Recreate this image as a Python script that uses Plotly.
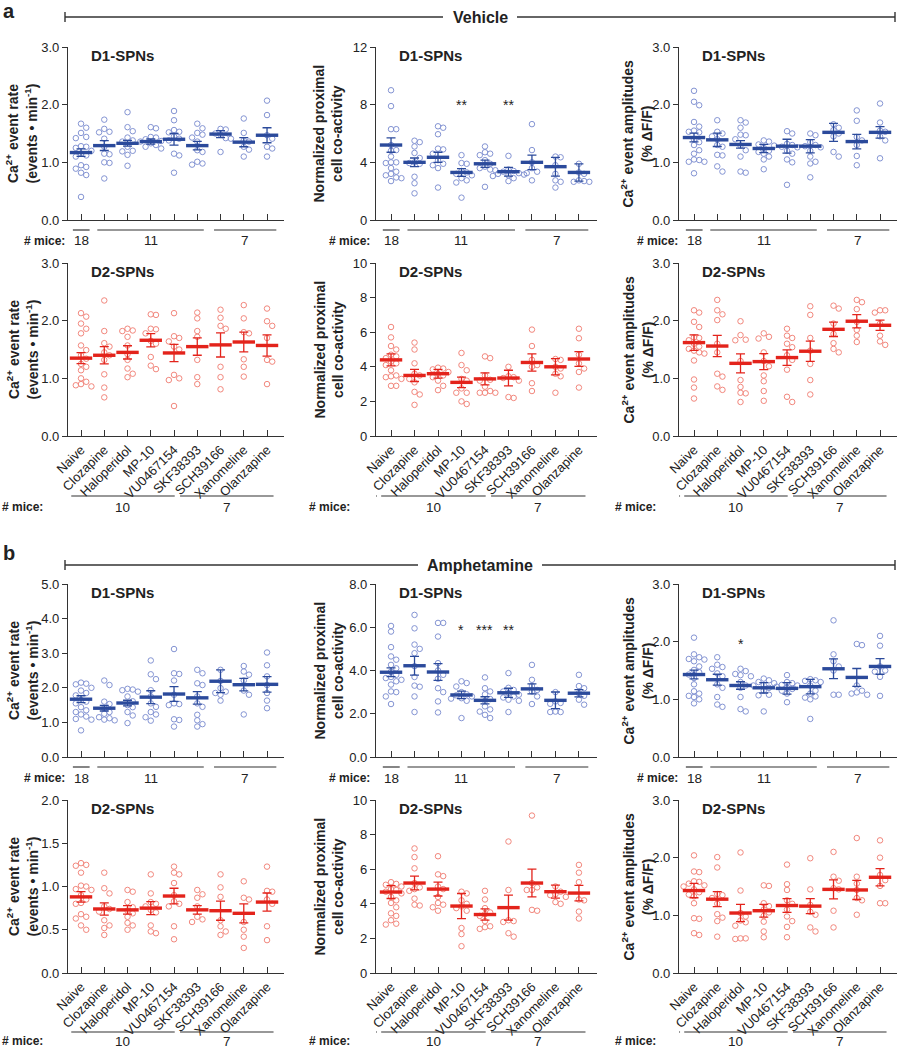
import numpy as np
import plotly.graph_objects as go

W, H = 898, 1050
FONT = "Liberation Sans, Arial, sans-serif"
INK = "#222222"
AX = "#333333"

categories = ["Naive", "Clozapine", "Haloperidol", "MP-10", "VU0467154",
              "SKF38393", "SCH39166", "Xanomeline", "Olanzapine"]
mice_d1 = ["18", "11", "7"]
mice_d2 = ["17", "10", "7"]

# ---------------- Vehicle, D1 ----------------
veh_d1_rate = [
    [1.67, 1.60, 1.51, 1.44, 1.42, 1.28, 1.25, 1.27, 1.20, 1.10, 1.12, 0.95, 0.92, 0.89, 0.82, 0.78, 0.40, 1.15],
    [1.74, 1.58, 1.53, 1.52, 1.41, 1.27, 1.14, 1.15, 1.00, 0.99, 0.72],
    [1.87, 1.61, 1.54, 1.43, 1.38, 1.36, 1.27, 1.20, 1.19, 1.13, 0.94],
    [1.61, 1.59, 1.44, 1.43, 1.40, 1.37, 1.36, 1.33, 1.30, 1.27, 1.24],
    [1.89, 1.73, 1.56, 1.53, 1.52, 1.45, 1.41, 1.38, 1.15, 1.12, 0.82],
    [1.67, 1.59, 1.51, 1.48, 1.43, 1.36, 1.21, 1.18, 1.01, 0.98, 0.96],
    [1.58, 1.57, 1.50, 1.48, 1.42, 1.41, 1.18],
    [1.76, 1.51, 1.38, 1.36, 1.27, 1.22, 1.10],
    [2.07, 1.82, 1.47, 1.41, 1.27, 1.24, 1.10]]
veh_d1_rate_mean = [1.17, 1.29, 1.33, 1.36, 1.40, 1.29, 1.49, 1.35, 1.47]
veh_d1_rate_sem = [0.065, 0.085, 0.05, 0.045, 0.10, 0.075, 0.06, 0.08, 0.13]

veh_d1_coact = [
    [9.0, 7.9, 6.3, 6.3, 5.2, 4.85, 4.8, 4.0, 4.0, 3.95, 3.6, 3.35, 3.2, 3.1, 2.95, 2.9, 2.7, 4.4],
    [5.5, 5.4, 5.1, 4.65, 4.0, 3.95, 3.9, 3.0, 2.55, 1.85, 4.3],
    [6.5, 6.4, 5.95, 4.95, 4.9, 4.6, 4.15, 3.9, 3.8, 3.6, 2.25],
    [4.5, 3.95, 3.9, 3.4, 3.3, 3.2, 3.1, 2.9, 2.75, 2.6, 1.55],
    [5.1, 4.7, 4.6, 4.5, 4.15, 3.9, 3.7, 3.6, 3.5, 3.45, 2.3],
    [4.45, 3.5, 3.4, 3.35, 3.25, 3.2, 3.15, 3.1, 3.05, 2.9, 2.7],
    [6.65, 4.85, 4.0, 3.6, 3.35, 3.25, 2.75],
    [4.4, 4.35, 3.8, 3.2, 2.75, 2.65, 2.25],
    [3.9, 3.3, 3.2, 2.75, 2.7, 2.65, 2.65]]
veh_d1_coact_mean = [5.2, 4.0, 4.35, 3.3, 3.9, 3.35, 4.0, 3.7, 3.3]
veh_d1_coact_sem = [0.5, 0.3, 0.35, 0.27, 0.25, 0.3, 0.5, 0.65, 0.6]
veh_d1_coact_sig = ["", "", "", "**", "", "**", "", "", ""]

veh_d1_amp = [
    [2.24, 2.05, 1.99, 1.70, 1.62, 1.55, 1.53, 1.52, 1.40, 1.35, 1.30, 1.21, 1.15, 1.05, 1.04, 1.01, 1.01, 0.81],
    [1.73, 1.53, 1.50, 1.45, 1.40, 1.27, 1.13, 1.12, 0.93, 0.84, 1.30],
    [1.73, 1.69, 1.60, 1.48, 1.47, 1.40, 1.29, 1.21, 1.10, 0.84, 0.82],
    [1.38, 1.36, 1.31, 1.29, 1.25, 1.18, 1.15, 1.10, 1.05, 0.88, 1.20],
    [1.54, 1.50, 1.32, 1.27, 1.26, 1.20, 1.15, 1.05, 1.00, 0.61, 1.30],
    [1.50, 1.47, 1.35, 1.30, 1.26, 1.20, 1.10, 1.01, 0.98, 0.74, 1.28],
    [1.66, 1.60, 1.56, 1.50, 1.45, 1.18, 1.10],
    [1.90, 1.72, 1.44, 1.38, 1.30, 1.11, 0.95],
    [2.02, 1.69, 1.55, 1.53, 1.45, 1.38, 1.07]]
veh_d1_amp_mean = [1.43, 1.39, 1.31, 1.24, 1.28, 1.28, 1.52, 1.36, 1.52]
veh_d1_amp_sem = [0.075, 0.115, 0.065, 0.07, 0.12, 0.115, 0.155, 0.125, 0.10]

# ---------------- Vehicle, D2 ----------------
veh_d2_rate = [
    [2.13, 2.07, 1.95, 1.86, 1.78, 1.57, 1.49, 1.40, 1.34, 1.25, 1.20, 1.14, 1.00, 0.94, 0.90, 0.88, 0.86],
    [2.35, 1.82, 1.61, 1.55, 1.45, 1.40, 1.32, 1.07, 0.84, 0.67],
    [1.86, 1.83, 1.82, 1.72, 1.57, 1.42, 1.32, 1.17, 1.08, 1.02],
    [2.11, 2.10, 1.86, 1.85, 1.78, 1.65, 1.60, 1.37, 1.22, 1.16],
    [2.13, 1.73, 1.70, 1.64, 1.55, 1.50, 1.06, 1.00, 0.97, 0.52],
    [2.14, 2.04, 1.82, 1.72, 1.32, 1.02, 0.90],
    [2.19, 2.05, 1.91, 1.86, 1.20, 1.02, 0.81],
    [2.27, 2.04, 1.80, 1.78, 1.33, 1.20, 1.03],
    [2.21, 1.99, 1.91, 1.70, 1.32, 1.29, 0.90]]
veh_d2_rate_mean = [1.35, 1.40, 1.45, 1.66, 1.44, 1.55, 1.58, 1.63, 1.57]
veh_d2_rate_sem = [0.095, 0.15, 0.115, 0.115, 0.15, 0.15, 0.21, 0.17, 0.185]

veh_d2_coact = [
    [6.3, 5.7, 5.2, 5.0, 4.6, 4.5, 4.3, 4.2, 4.1, 3.8, 3.5, 3.45, 3.4, 3.3, 2.9, 2.9, 4.7],
    [5.4, 5.0, 4.2, 3.6, 3.5, 3.3, 3.1, 2.55, 2.4, 1.8],
    [3.95, 3.9, 3.85, 3.7, 3.6, 3.5, 3.4, 3.2, 2.9, 2.65],
    [4.8, 4.1, 3.8, 3.3, 3.2, 2.75, 2.5, 2.5, 2.0, 1.85],
    [4.6, 4.5, 3.5, 3.25, 3.2, 2.85, 2.6, 2.5, 2.5, 2.5],
    [4.0, 3.45, 3.4, 3.35, 3.2, 2.25, 2.2],
    [6.15, 5.2, 4.4, 4.1, 4.0, 3.05, 2.6],
    [4.45, 4.4, 4.0, 3.9, 3.6, 3.45, 2.5],
    [6.2, 5.65, 4.7, 4.2, 3.9, 3.7, 2.8]]
veh_d2_coact_mean = [4.4, 3.5, 3.6, 3.1, 3.3, 3.35, 4.25, 4.0, 4.45]
veh_d2_coact_sem = [0.35, 0.35, 0.25, 0.3, 0.35, 0.45, 0.5, 0.47, 0.43]

veh_d2_amp = [
    [2.18, 2.14, 1.98, 1.89, 1.71, 1.66, 1.60, 1.51, 1.48, 1.45, 1.43, 1.31, 0.98, 0.84, 0.65, 1.55, 1.70],
    [2.36, 2.18, 2.11, 2.01, 1.60, 1.45, 1.08, 1.03, 0.86, 0.80],
    [1.99, 1.75, 1.67, 1.66, 1.30, 0.97, 0.85, 0.75, 0.74, 0.59],
    [1.78, 1.72, 1.69, 1.45, 1.30, 1.21, 1.05, 0.95, 0.78, 0.61],
    [1.86, 1.74, 1.70, 1.54, 1.40, 1.32, 1.15, 0.68, 0.59, 1.60],
    [2.25, 2.10, 1.70, 1.48, 1.25, 0.97, 0.72],
    [2.26, 2.21, 1.95, 1.77, 1.61, 1.51, 1.45],
    [2.36, 2.32, 2.20, 1.98, 1.84, 1.74, 1.63],
    [2.18, 2.18, 2.14, 1.95, 1.74, 1.64, 1.58]]
veh_d2_amp_mean = [1.62, 1.56, 1.26, 1.29, 1.36, 1.47, 1.85, 1.99, 1.92]
veh_d2_amp_sem = [0.135, 0.185, 0.165, 0.14, 0.135, 0.175, 0.125, 0.115, 0.09]

# ---------------- Amphetamine, D1 ----------------
amph_d1_rate = [
    [2.15, 2.12, 2.10, 2.00, 1.92, 1.85, 1.78, 1.65, 1.60, 1.55, 1.44, 1.35, 1.30, 1.23, 1.17, 1.10, 1.08, 0.77],
    [2.21, 2.08, 1.60, 1.53, 1.41, 1.30, 1.25, 1.15, 1.12, 1.08, 1.06],
    [1.97, 1.95, 1.93, 1.89, 1.75, 1.61, 1.50, 1.44, 1.30, 1.20, 0.98],
    [2.79, 2.39, 2.25, 1.93, 1.75, 1.55, 1.45, 1.30, 1.23, 1.15, 1.05],
    [3.12, 2.42, 2.40, 2.21, 1.80, 1.55, 1.53, 1.50, 1.09, 1.07, 0.88],
    [2.52, 2.42, 2.13, 2.08, 1.75, 1.55, 1.45, 1.22, 1.06, 0.95, 0.88],
    [2.52, 2.20, 1.99, 1.89, 1.85, 1.80, 1.63],
    [2.63, 2.47, 2.38, 2.21, 1.92, 1.80, 1.23],
    [3.02, 2.65, 2.33, 2.08, 1.85, 1.63, 1.41]]
amph_d1_rate_mean = [1.67, 1.41, 1.56, 1.73, 1.82, 1.71, 2.19, 2.09, 2.10]
amph_d1_rate_sem = [0.10, 0.08, 0.08, 0.185, 0.215, 0.18, 0.33, 0.18, 0.225]

amph_d1_coact = [
    [6.06, 5.8, 5.08, 4.65, 4.5, 4.26, 4.1, 3.95, 3.8, 3.7, 3.65, 3.57, 3.5, 3.35, 3.03, 3.0, 2.8, 2.45],
    [6.57, 5.95, 5.2, 5.0, 4.8, 4.2, 3.7, 3.3, 3.25, 2.8, 2.08],
    [6.2, 6.2, 5.57, 4.34, 4.0, 3.8, 3.62, 3.18, 3.0, 2.57, 2.06],
    [3.5, 3.42, 3.26, 3.0, 2.9, 2.85, 2.8, 2.72, 2.7, 2.6, 1.8],
    [3.68, 3.18, 3.03, 2.9, 2.68, 2.6, 2.34, 2.2, 2.1, 1.95, 1.8],
    [3.88, 3.2, 3.1, 3.03, 2.95, 2.88, 2.8, 2.75, 2.65, 2.6, 2.08],
    [4.26, 3.57, 3.28, 3.1, 3.03, 2.8, 2.45],
    [3.0, 2.57, 2.5, 2.46, 2.1, 2.08, 2.08],
    [3.8, 3.28, 3.18, 2.95, 2.83, 2.65, 2.42]]
amph_d1_coact_mean = [3.92, 4.22, 3.93, 2.87, 2.62, 2.97, 3.15, 2.62, 2.95]
amph_d1_coact_sem = [0.2, 0.43, 0.385, 0.175, 0.165, 0.21, 0.23, 0.385, 0.17]
amph_d1_coact_sig = ["", "", "", "*", "***", "**", "", "", ""]

amph_d1_amp = [
    [2.07, 1.78, 1.73, 1.70, 1.69, 1.66, 1.57, 1.51, 1.47, 1.43, 1.37, 1.26, 1.14, 1.10, 1.06, 1.04, 1.00, 0.93],
    [1.73, 1.60, 1.56, 1.53, 1.45, 1.26, 1.20, 1.04, 0.91, 0.87, 1.40],
    [1.53, 1.49, 1.44, 1.42, 1.40, 1.30, 1.24, 1.04, 0.83, 0.79, 1.20],
    [1.36, 1.33, 1.28, 1.24, 1.20, 1.15, 1.08, 1.07, 0.79, 1.30, 1.25],
    [1.42, 1.28, 1.24, 1.22, 1.20, 1.15, 1.10, 0.95, 1.18, 1.25, 1.30],
    [1.35, 1.33, 1.30, 1.24, 1.15, 1.05, 1.03, 1.00, 0.66, 1.32, 1.10],
    [2.37, 1.78, 1.66, 1.57, 1.50, 1.08, 1.08],
    [1.96, 1.94, 1.24, 1.15, 1.12, 1.08, 1.10],
    [2.10, 1.93, 1.57, 1.48, 1.39, 1.50, 1.06]]
amph_d1_amp_mean = [1.43, 1.34, 1.24, 1.20, 1.19, 1.22, 1.53, 1.38, 1.57]
amph_d1_amp_sem = [0.075, 0.095, 0.065, 0.09, 0.10, 0.125, 0.17, 0.155, 0.135]
amph_d1_amp_sig = ["", "", "*", "", "", "", "", "", ""]

# ---------------- Amphetamine, D2 ----------------
amph_d2_rate = [
    [1.27, 1.25, 1.24, 1.16, 1.01, 1.00, 0.97, 0.96, 0.90, 0.85, 0.81, 0.68, 0.65, 0.63, 0.55, 0.50, 0.80],
    [1.16, 0.98, 0.92, 0.77, 0.74, 0.71, 0.61, 0.55, 0.52, 0.44],
    [0.96, 0.94, 0.82, 0.76, 0.72, 0.69, 0.65, 0.58, 0.55, 0.50],
    [1.14, 0.92, 0.82, 0.80, 0.77, 0.73, 0.70, 0.55, 0.48, 0.46],
    [1.23, 1.16, 1.14, 1.04, 0.90, 0.83, 0.80, 0.77, 0.54, 0.39],
    [0.96, 0.91, 0.87, 0.77, 0.65, 0.62, 0.59],
    [1.14, 0.99, 0.88, 0.61, 0.54, 0.48, 0.44],
    [1.06, 0.87, 0.85, 0.59, 0.50, 0.42, 0.29],
    [1.23, 0.95, 0.94, 0.85, 0.80, 0.54, 0.38]]
amph_d2_rate_mean = [0.88, 0.74, 0.73, 0.75, 0.89, 0.73, 0.72, 0.69, 0.82]
amph_d2_rate_sem = [0.06, 0.07, 0.05, 0.075, 0.09, 0.05, 0.11, 0.11, 0.105]

amph_d2_coact = [
    [5.25, 5.15, 5.0, 4.85, 4.8, 4.7, 4.6, 4.4, 4.2, 4.05, 3.8, 3.45, 3.3, 3.05, 2.85, 2.8, 5.1],
    [7.2, 6.7, 6.05, 5.2, 4.95, 4.85, 4.75, 4.3, 3.95, 3.9],
    [6.75, 5.7, 5.6, 5.0, 4.85, 4.4, 4.05, 3.95, 3.8, 3.6],
    [4.7, 4.6, 4.2, 4.0, 3.85, 3.75, 2.6, 2.25, 1.55, 3.6],
    [4.75, 4.25, 3.75, 3.4, 3.0, 2.7, 2.65, 2.55, 3.3, 3.5],
    [7.6, 4.8, 3.05, 3.0, 2.95, 2.3, 2.1],
    [9.1, 5.2, 4.95, 4.8, 4.8, 3.65, 3.6],
    [5.0, 4.7, 4.55, 4.5, 4.4, 4.1, 4.0],
    [6.25, 5.8, 5.25, 4.25, 4.2, 3.55, 3.15]]
amph_d2_coact_mean = [4.68, 5.2, 4.85, 3.87, 3.38, 3.78, 5.2, 4.7, 4.62]
amph_d2_coact_sem = [0.375, 0.4, 0.4, 0.725, 0.325, 0.725, 0.8, 0.375, 0.45]

amph_d2_amp = [
    [2.04, 1.76, 1.75, 1.59, 1.55, 1.52, 1.45, 1.40, 1.36, 1.33, 1.21, 0.95, 0.94, 0.69, 0.66, 1.50, 1.58],
    [2.01, 1.83, 1.37, 1.35, 1.30, 1.20, 1.02, 0.96, 0.90, 0.63],
    [2.09, 1.43, 1.04, 0.98, 0.91, 0.88, 0.82, 0.60, 0.59, 0.60],
    [1.52, 1.51, 1.21, 1.16, 1.05, 0.99, 0.89, 0.72, 0.62, 1.10],
    [1.88, 1.54, 1.44, 1.26, 1.20, 1.10, 0.98, 0.90, 0.80, 0.62],
    [1.99, 1.45, 1.18, 1.06, 1.01, 0.79, 0.72],
    [2.10, 1.67, 1.60, 1.47, 1.45, 1.08, 0.79],
    [2.34, 1.67, 1.55, 1.44, 1.30, 1.26, 1.01],
    [2.30, 2.00, 1.70, 1.61, 1.51, 1.21, 1.21]]
amph_d2_amp_mean = [1.43, 1.28, 1.04, 1.08, 1.17, 1.16, 1.45, 1.44, 1.66]
amph_d2_amp_sem = [0.125, 0.13, 0.15, 0.11, 0.12, 0.13, 0.165, 0.165, 0.15]

NOSIG = [""] * 9

# ---------------- layout geometry (pixels) ----------------
COL_PX = [(68, 284), (376, 597), (679, 897)]
CAT_RANGE = [(-0.56, 8.73), (-0.64, 8.77), (-0.645, 8.73)]
ROW_PX = [(47, 220), (263, 436), (584, 757), (800, 973)]
TITLE_OFF = [46, 48, 42]
# (x position in px, anchor) of the "# mice:" label
MICE_LBL_TOP = [(67, "right"), (372, "right"), (680, "right")]
MICE_LBL_BOT = [(0, "left"), (352, "right"), (658, "right")]
# (line offset, text offset) below each row's x axis
MICE_ROW_OFF = [(10, 21), (60, 71), (10, 21), (59, 68)]

BLUE_PT, BLUE_MEAN = "#8494d3", "#2b4a9b"
RED_PT, RED_MEAN = "#f2877d", "#e3231b"

YT_RATE = "<b>Ca<sup>2+</sup> event rate<br>(events • min<sup>-1</sup>)</b>"
YT_COACT = "<b>Normalized proximal<br>cell co-activity</b>"
YT_AMP = "<b>Ca<sup>2+</sup> event amplitudes<br>(% ΔF/F)</b>"

panels = [
    # row, col, pts, mean, sem, sig, cell, ytitle, yrange, ticks, fmt
    (0, 0, veh_d1_rate, veh_d1_rate_mean, veh_d1_rate_sem, NOSIG, "D1", YT_RATE, 3, [0, 1, 2, 3], "{:.1f}"),
    (0, 1, veh_d1_coact, veh_d1_coact_mean, veh_d1_coact_sem, veh_d1_coact_sig, "D1", YT_COACT, 12, [0, 4, 8, 12], "{:.0f}"),
    (0, 2, veh_d1_amp, veh_d1_amp_mean, veh_d1_amp_sem, NOSIG, "D1", YT_AMP, 3, [0, 1, 2, 3], "{:.1f}"),
    (1, 0, veh_d2_rate, veh_d2_rate_mean, veh_d2_rate_sem, NOSIG, "D2", YT_RATE, 3, [0, 1, 2, 3], "{:.1f}"),
    (1, 1, veh_d2_coact, veh_d2_coact_mean, veh_d2_coact_sem, NOSIG, "D2", YT_COACT, 10, [0, 2, 4, 6, 8, 10], "{:.0f}"),
    (1, 2, veh_d2_amp, veh_d2_amp_mean, veh_d2_amp_sem, NOSIG, "D2", YT_AMP, 3, [0, 1, 2, 3], "{:.1f}"),
    (2, 0, amph_d1_rate, amph_d1_rate_mean, amph_d1_rate_sem, NOSIG, "D1", YT_RATE, 5, [0, 1, 2, 3, 4, 5], "{:.1f}"),
    (2, 1, amph_d1_coact, amph_d1_coact_mean, amph_d1_coact_sem, amph_d1_coact_sig, "D1", YT_COACT, 8, [0, 2, 4, 6, 8], "{:.1f}"),
    (2, 2, amph_d1_amp, amph_d1_amp_mean, amph_d1_amp_sem, amph_d1_amp_sig, "D1", YT_AMP, 3, [0, 1, 2, 3], "{:.1f}"),
    (3, 0, amph_d2_rate, amph_d2_rate_mean, amph_d2_rate_sem, NOSIG, "D2", YT_RATE, 2, [0, 0.5, 1, 1.5, 2], "{:.1f}"),
    (3, 1, amph_d2_coact, amph_d2_coact_mean, amph_d2_coact_sem, NOSIG, "D2", YT_COACT, 10, [0, 2, 4, 6, 8, 10], "{:.0f}"),
    (3, 2, amph_d2_amp, amph_d2_amp_mean, amph_d2_amp_sem, NOSIG, "D2", YT_AMP, 3, [0, 1, 2, 3], "{:.1f}"),
]

SIG_Y = {1: 8.2, 7: 6.0, 8: 2.02}


def px(xp):
    return xp / W


def py(yp):
    return 1 - yp / H


def swarm_offsets(vals, px_per_y, px_per_x, d=5.2):
    vals = np.asarray(vals, float)
    order = np.argsort(-vals, kind="stable")
    placed = []
    offs = np.zeros(len(vals))
    steps = [0.0]
    for k in range(1, 6):
        steps += [k * d, -k * d]
    for i in order:
        y = vals[i] * px_per_y
        chosen = steps[-1]
        for s in steps:
            if all((s - a) ** 2 + (y - b) ** 2 >= d * d for a, b in placed):
                chosen = s
                break
        placed.append((chosen, y))
        offs[i] = chosen / px_per_x
    return offs


fig = go.Figure()
annotations = []
shapes = []
layout = {}

for k, (r, c, pts, mean, sem, sig, cell, ytitle, ymax, ticks, fmt) in enumerate(panels):
    n = k + 1
    xa = "x" if n == 1 else f"x{n}"
    ya = "y" if n == 1 else f"y{n}"
    xl = "xaxis" if n == 1 else f"xaxis{n}"
    yl = "yaxis" if n == 1 else f"yaxis{n}"
    x0p, x1p = COL_PX[c]
    y0p, y1p = ROW_PX[r]
    cr = CAT_RANGE[c]
    px_per_x = (x1p - x0p) / (cr[1] - cr[0])
    px_per_y = (y1p - y0p) / ymax
    is_d1 = cell == "D1"
    ptc = BLUE_PT if is_d1 else RED_PT
    mc = BLUE_MEAN if is_d1 else RED_MEAN
    bottom = (r % 2 == 1)

    xs, ys = [], []
    for i, grp in enumerate(pts):
        offs = swarm_offsets(grp, px_per_y, px_per_x)
        xs += list(i + offs)
        ys += list(grp)
    fig.add_trace(go.Scatter(
        x=xs, y=ys, xaxis=xa, yaxis=ya, mode="markers", hoverinfo="skip", cliponaxis=False,
        marker=dict(symbol="circle-open", size=5.5, color=ptc, line=dict(width=1, color=ptc))))
    fig.add_trace(go.Scatter(
        x=list(range(len(categories))), y=mean, xaxis=xa, yaxis=ya, mode="markers",
        cliponaxis=False,
        marker=dict(symbol="line-ew", size=16, color=mc, line=dict(width=3.4, color=mc)),
        error_y=dict(type="data", array=sem, visible=True, color=mc, thickness=1.3, width=4.5)))

    layout[xl] = dict(
        domain=[px(x0p), px(x1p)], range=list(cr), anchor=ya, showgrid=False, zeroline=False,
        automargin=False,
        showline=True, linecolor=AX, linewidth=1.3, ticks="inside", ticklen=6, tickwidth=1.3,
        tickcolor=AX, tickvals=list(range(9)), ticktext=categories,
        showticklabels=bottom, tickangle=-45,
        tickfont=dict(family=FONT, size=13, color=INK), fixedrange=True)
    layout[yl] = dict(
        domain=[py(y1p), py(y0p)], range=[0, ymax], anchor=xa, showgrid=False, zeroline=False,
        automargin=False,
        showline=True, linecolor=AX, linewidth=1.3, ticks="outside", ticklen=5, tickwidth=1.3,
        tickcolor=AX, tickvals=ticks, ticktext=[fmt.format(t) for t in ticks],
        tickfont=dict(family=FONT, size=13, color=INK), fixedrange=True)

    # y title
    annotations.append(dict(
        text=ytitle, xref="paper", yref="paper", x=px(x0p - TITLE_OFF[c]), y=py((y0p + y1p) / 2),
        xanchor="center", yanchor="middle", textangle=-90, showarrow=False,
        font=dict(family=FONT, size=14, color=INK)))
    # panel title
    annotations.append(dict(
        text=f"<b>{cell}-SPNs</b>", xref="paper", yref="paper", x=px(x0p + 21), y=py(y0p + 8),
        xanchor="left", yanchor="middle", showarrow=False,
        font=dict(family=FONT, size=15, color=INK)))
    # significance
    for i, s in enumerate(sig):
        if s:
            annotations.append(dict(
                text=s, xref=xa, yref=ya, x=i, y=SIG_Y[k], xanchor="center", yanchor="middle",
                showarrow=False, yshift=-3, font=dict(family=FONT, size=14, color=INK)))

    # # mice rows
    mice = mice_d1 if is_d1 else mice_d2
    line_off, txt_off = MICE_ROW_OFF[r]
    line_y, txt_y = y1p + line_off, y1p + txt_off
    if bottom:
        spans = [(-1.32, -0.6), (-0.42, 4.03), (4.26, 8.28)]
        lbl_x, lbl_anchor = MICE_LBL_BOT[c]
    else:
        spans = [(-0.35, 0.37), (0.7, 5.28), (5.72, 8.4)]
        lbl_x, lbl_anchor = MICE_LBL_TOP[c]
    for (a, b), m in zip(spans, mice):
        shapes.append(dict(type="line", xref=xa, yref="paper", x0=a, x1=b,
                           y0=py(line_y), y1=py(line_y), line=dict(color=AX, width=1.2)))
        annotations.append(dict(text=m, xref=xa, yref="paper", x=(a + b) / 2, y=py(txt_y),
                                xanchor="center", yanchor="middle", showarrow=False,
                                font=dict(family=FONT, size=13.5, color=INK)))
    annotations.append(dict(text="<b># mice:</b>", xref="paper", yref="paper", x=px(lbl_x),
                            y=py(txt_y), xanchor=lbl_anchor, yanchor="middle", showarrow=False,
                            font=dict(family=FONT, size=12, color=INK)))

# section headers
headers = [("a", "Vehicle", 17, 11, 56), ("b", "Amphetamine", 565, 553, 106)]
for letter, label, ly, letter_y, tw in headers:
    cx = 480
    gap0, gap1 = cx - tw / 2 - 9, cx + tw / 2 + 9
    for xa0, xa1 in [(65, gap0), (gap1, 895)]:
        shapes.append(dict(type="line", xref="paper", yref="paper", x0=px(xa0), x1=px(xa1),
                           y0=py(ly), y1=py(ly), line=dict(color=AX, width=1.4)))
    for xe in (65, 895):
        shapes.append(dict(type="line", xref="paper", yref="paper", x0=px(xe), x1=px(xe),
                           y0=py(ly - 5), y1=py(ly + 5), line=dict(color=AX, width=1.4)))
    annotations.append(dict(text=f"<b>{label}</b>", xref="paper", yref="paper", x=px(cx), y=py(ly),
                            xanchor="center", yanchor="middle", showarrow=False,
                            font=dict(family=FONT, size=16, color=INK)))
    annotations.append(dict(text=f"<b>{letter}</b>", xref="paper", yref="paper", x=px(1),
                            y=py(letter_y), xanchor="left", yanchor="middle", showarrow=False,
                            font=dict(family=FONT, size=20, color=INK)))

fig.update_layout(
    template="none",
    width=W, height=H, margin=dict(l=0, r=0, t=0, b=0, pad=0), autosize=False,
    paper_bgcolor="white", plot_bgcolor="white", showlegend=False,
    annotations=annotations, shapes=shapes, font=dict(family=FONT, color=INK), **layout)

fig.write_html("out.html", config={"displayModeBar": False},
               post_script="document.body.style.margin='0px';document.body.style.overflow='hidden';")
